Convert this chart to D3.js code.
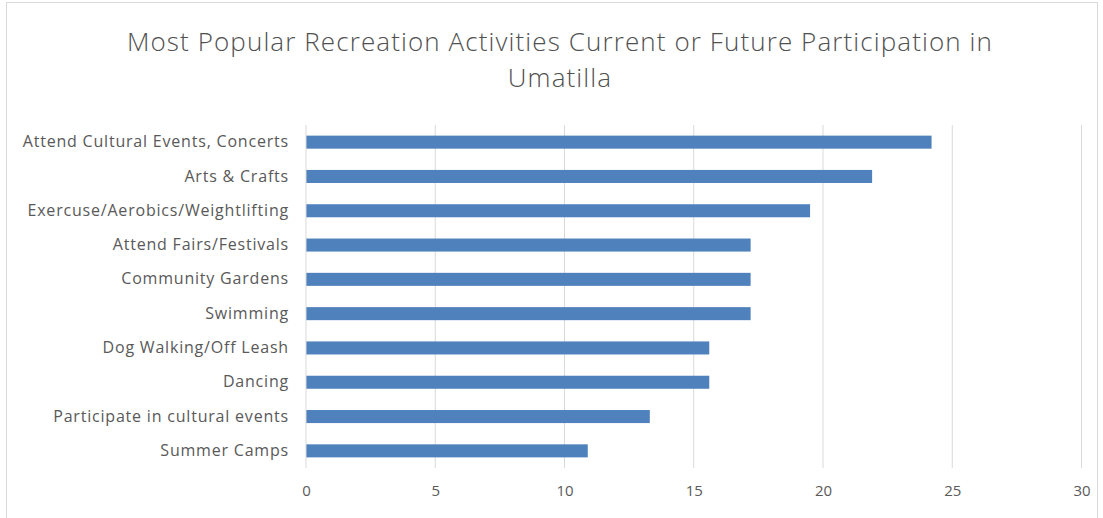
<!DOCTYPE html>
<html><head><meta charset="utf-8">
<script src="https://cdn.jsdelivr.net/npm/d3@7"></script>
<style>body{margin:0;background:#fff}svg{display:block}</style>
</head><body>
<svg id="c" width="1103" height="518"></svg>
<script>
const categories = ["Attend Cultural Events, Concerts","Arts & Crafts","Exercuse/Aerobics/Weightlifting","Attend Fairs/Festivals","Community Gardens","Swimming","Dog Walking/Off Leash","Dancing","Participate in cultural events","Summer Camps"];
const values = [24.2,21.9,19.5,17.2,17.2,17.2,15.6,15.6,13.3,10.9];
const tickValues = [0,5,10,15,20,25,30];
const titleLines = ["Most Popular Recreation Activities Current or Future Participation in","Umatilla"];

const svg = d3.select("#c");
const font = "'Open Sans', sans-serif";
svg.append("rect").attr("x",6.5).attr("y",2.5).attr("width",1091).attr("height",530)
  .attr("fill","#fff").attr("stroke","#d9d9d9");

const x = d3.scaleLinear().domain([0,30]).range([306,1081.5]);
const y = d3.scaleBand().domain(categories).range([125,468]).paddingInner(0.62).paddingOuter(0.31);

svg.append("g").selectAll("line").data(tickValues.filter(d=>d>0)).join("line")
  .attr("x1",d=>x(d)).attr("x2",d=>x(d)).attr("y1",125).attr("y2",468)
  .attr("stroke","#d9d9d9").attr("stroke-width",1);

svg.append("g").selectAll("rect").data(values).join("rect")
  .attr("x",x(0)).attr("y",(d,i)=>y(categories[i]))
  .attr("width",d=>x(d)-x(0)).attr("height",y.bandwidth())
  .attr("fill","#4F81BD");

svg.append("line").attr("x1",x(0)).attr("x2",x(0)).attr("y1",125).attr("y2",468).attr("stroke","#d9d9d9");

const xa = svg.append("g").attr("transform","translate(0,468)")
  .call(d3.axisBottom(x).tickValues(tickValues).tickSize(0).tickPadding(17));
xa.select(".domain").remove();
xa.selectAll("text").attr("font-family",font).attr("font-size",15).attr("fill","#595959");

const ya = svg.append("g").attr("transform","translate("+x(0)+",0)")
  .call(d3.axisLeft(y).tickSize(0).tickPadding(17));
ya.select(".domain").remove();
ya.selectAll("text").attr("font-family",font).attr("font-size",16).attr("letter-spacing",0.8).attr("fill","#595959");

svg.append("g").selectAll("text").data(titleLines).join("text")
  .attr("x",560).attr("y",(d,i)=>51+i*36).attr("text-anchor","middle")
  .attr("font-family",font).attr("font-weight",300).attr("font-size",26).attr("letter-spacing",1.1).attr("fill","#505050").text(d=>d);
</script>
</body></html>
